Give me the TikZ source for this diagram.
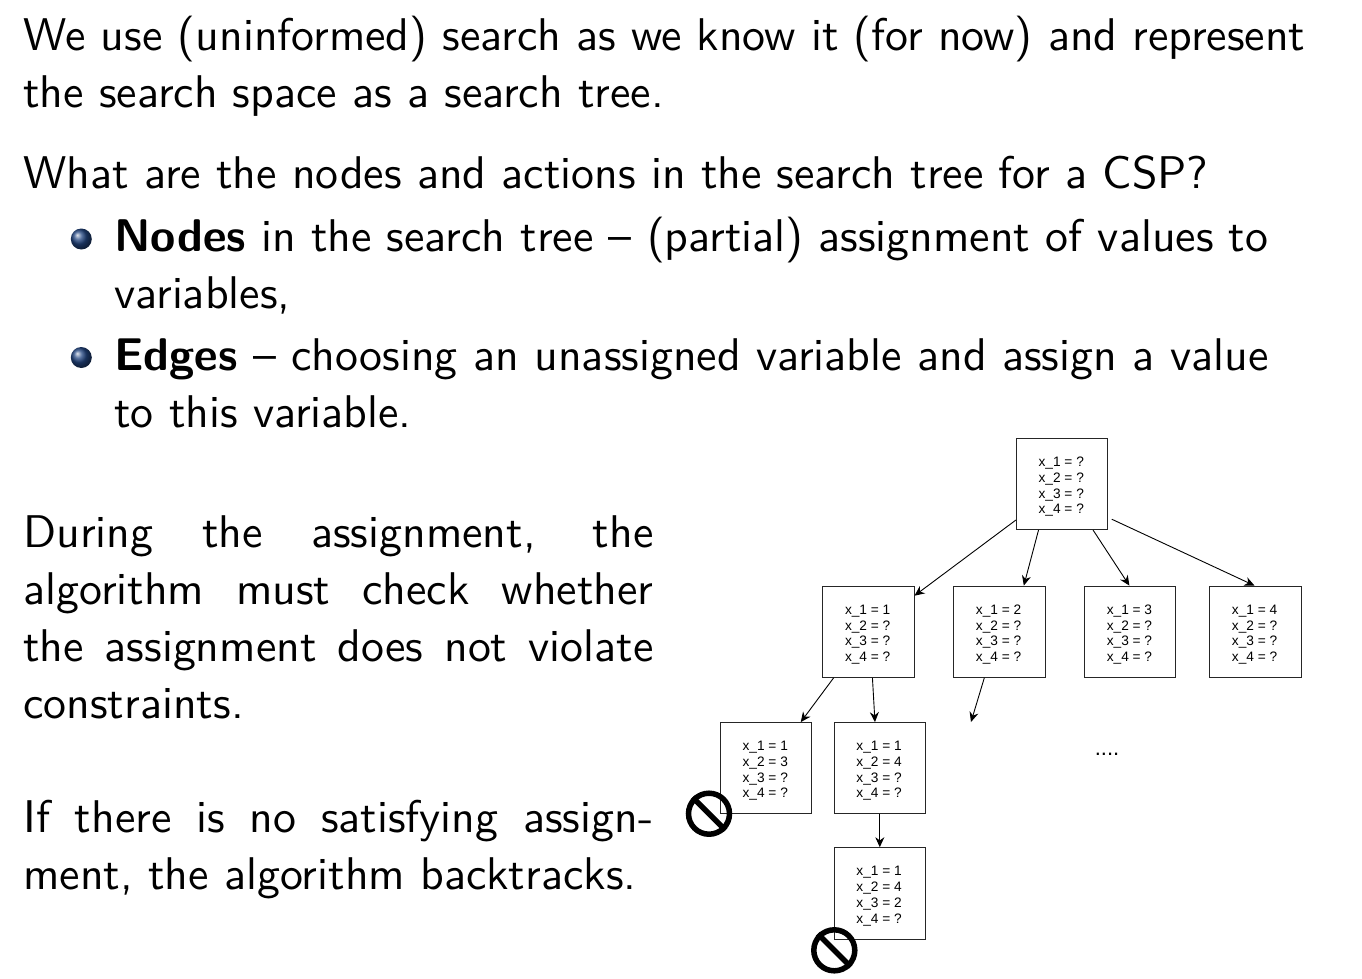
\documentclass[tikz,border=0pt]{standalone}
\usepackage{fontspec}
\setsansfont{lmsans10-regular.otf}[BoldFont=lmsans10-bold.otf]
\newfontfamily\boxfont{Liberation Sans}
\usetikzlibrary{arrows.meta}
\newcommand{\vals}[4]{\rule{0pt}{15pt}x\_1 = #1\kern1.5pt\\ x\_2 = #2\kern1.5pt\\ x\_3 = #3\kern1.5pt\\ x\_4 = #4\kern1.5pt}
\newcommand{\jline}[2]{\makebox[#1pt][s]{#2}}
\tikzset{
  slidetext/.style={anchor=north west, inner sep=0pt, align=left, font=\fontsize{45.85}{57}\selectfont\sffamily},
  varbox/.style={draw=black!85, line width=0.9pt, minimum size=91.3pt, inner sep=0pt, align=center, font=\fontsize{13.7}{15.7}\selectfont\boxfont},
  edge/.style={line width=0.9pt, -{Stealth[length=10pt,width=9pt]}},
  nosign/.style={draw=black, circle, line width=5.5pt, minimum size=41pt, inner sep=0pt},
  nobar/.style={line width=5.5pt},
  bullet/.style={circle, minimum size=21pt, inner sep=0pt, ball color={rgb,255:red,35;green,70;blue,130}}
}
\begin{document}
\begin{tikzpicture}[x=1pt, y=-1pt]
\useasboundingbox (0, 0) rectangle (1362, 978);
\node [slidetext] (introtext) at (23.2, 16) {\jline{1282}{We use (uninformed) search as we know it (for now) and represent}\\ the search space as a search tree.};
\node [slidetext] (question) at (23.2, 155) {What are the nodes and actions in the search tree for a CSP?};
\node [bullet] (balla) at (81.3, 239) {};
\node [slidetext] (itema) at (114.2, 217) {\jline{1154}{\textbf{Nodes} in the search tree -- (partial) assignment of values to}\\ variables,};
\node [bullet] (ballb) at (81.3, 357.5) {};
\node [slidetext] (itemb) at (114.2, 338) {\jline{1154}{\textbf{Edges} -- choosing an unassigned variable and assign a value}\\ to this variable.};
\node [slidetext] (checktext) at (23.2, 515) {\jline{630}{During the assignment, the}\\ \jline{630}{algorithm must check whether}\\ \jline{630}{the assignment does not violate}\\ constraints.};
\node [slidetext] (backtext) at (23.2, 800) {\jline{630}{If there is no satisfying assign-}\\ ment, the algorithm backtracks.};
\node [varbox] (root) at (1062, 484) {\vals{?}{?}{?}{?}};
\node [varbox] (one) at (868.4, 631.7) {\vals{1}{?}{?}{?}};
\node [varbox] (two) at (999.3, 631.7) {\vals{2}{?}{?}{?}};
\node [varbox] (three) at (1130.2, 631.7) {\vals{3}{?}{?}{?}};
\node [varbox] (four) at (1255.3, 631.7) {\vals{4}{?}{?}{?}};
\node [varbox] (onethree) at (766, 768.2) {\vals{1}{3}{?}{?}};
\node [varbox] (onefour) at (879.8, 768.2) {\vals{1}{4}{?}{?}};
\node [varbox] (onefourtwo) at (879.8, 893.3) {\vals{1}{4}{2}{?}};
\node [font=\fontsize{22}{24}\selectfont\boxfont] (dots) at (1107, 754) {....};
\coordinate (freeend) at (971, 722);
\draw [edge] (root.218) -- (one.38);
\draw [edge] (root.243) -- (two.62);
\draw [edge] (root.304) -- (three.91);
\draw [edge, shorten <=4pt] (root.324) -- (four.91);
\draw [edge] (one.233) -- (onethree.53);
\draw [edge] (one.275) -- (onefour.96);
\draw [edge] (two.252) -- (freeend);
\draw [edge] (onefour.south) -- (onefourtwo.north);
\node [nosign] (stopa) at (709, 813.7) {};
\draw [nobar] (stopa.135) -- (stopa.315);
\node [nosign] (stopb) at (834.3, 950.3) {};
\draw [nobar] (stopb.135) -- (stopb.315);
\end{tikzpicture}
\end{document}
